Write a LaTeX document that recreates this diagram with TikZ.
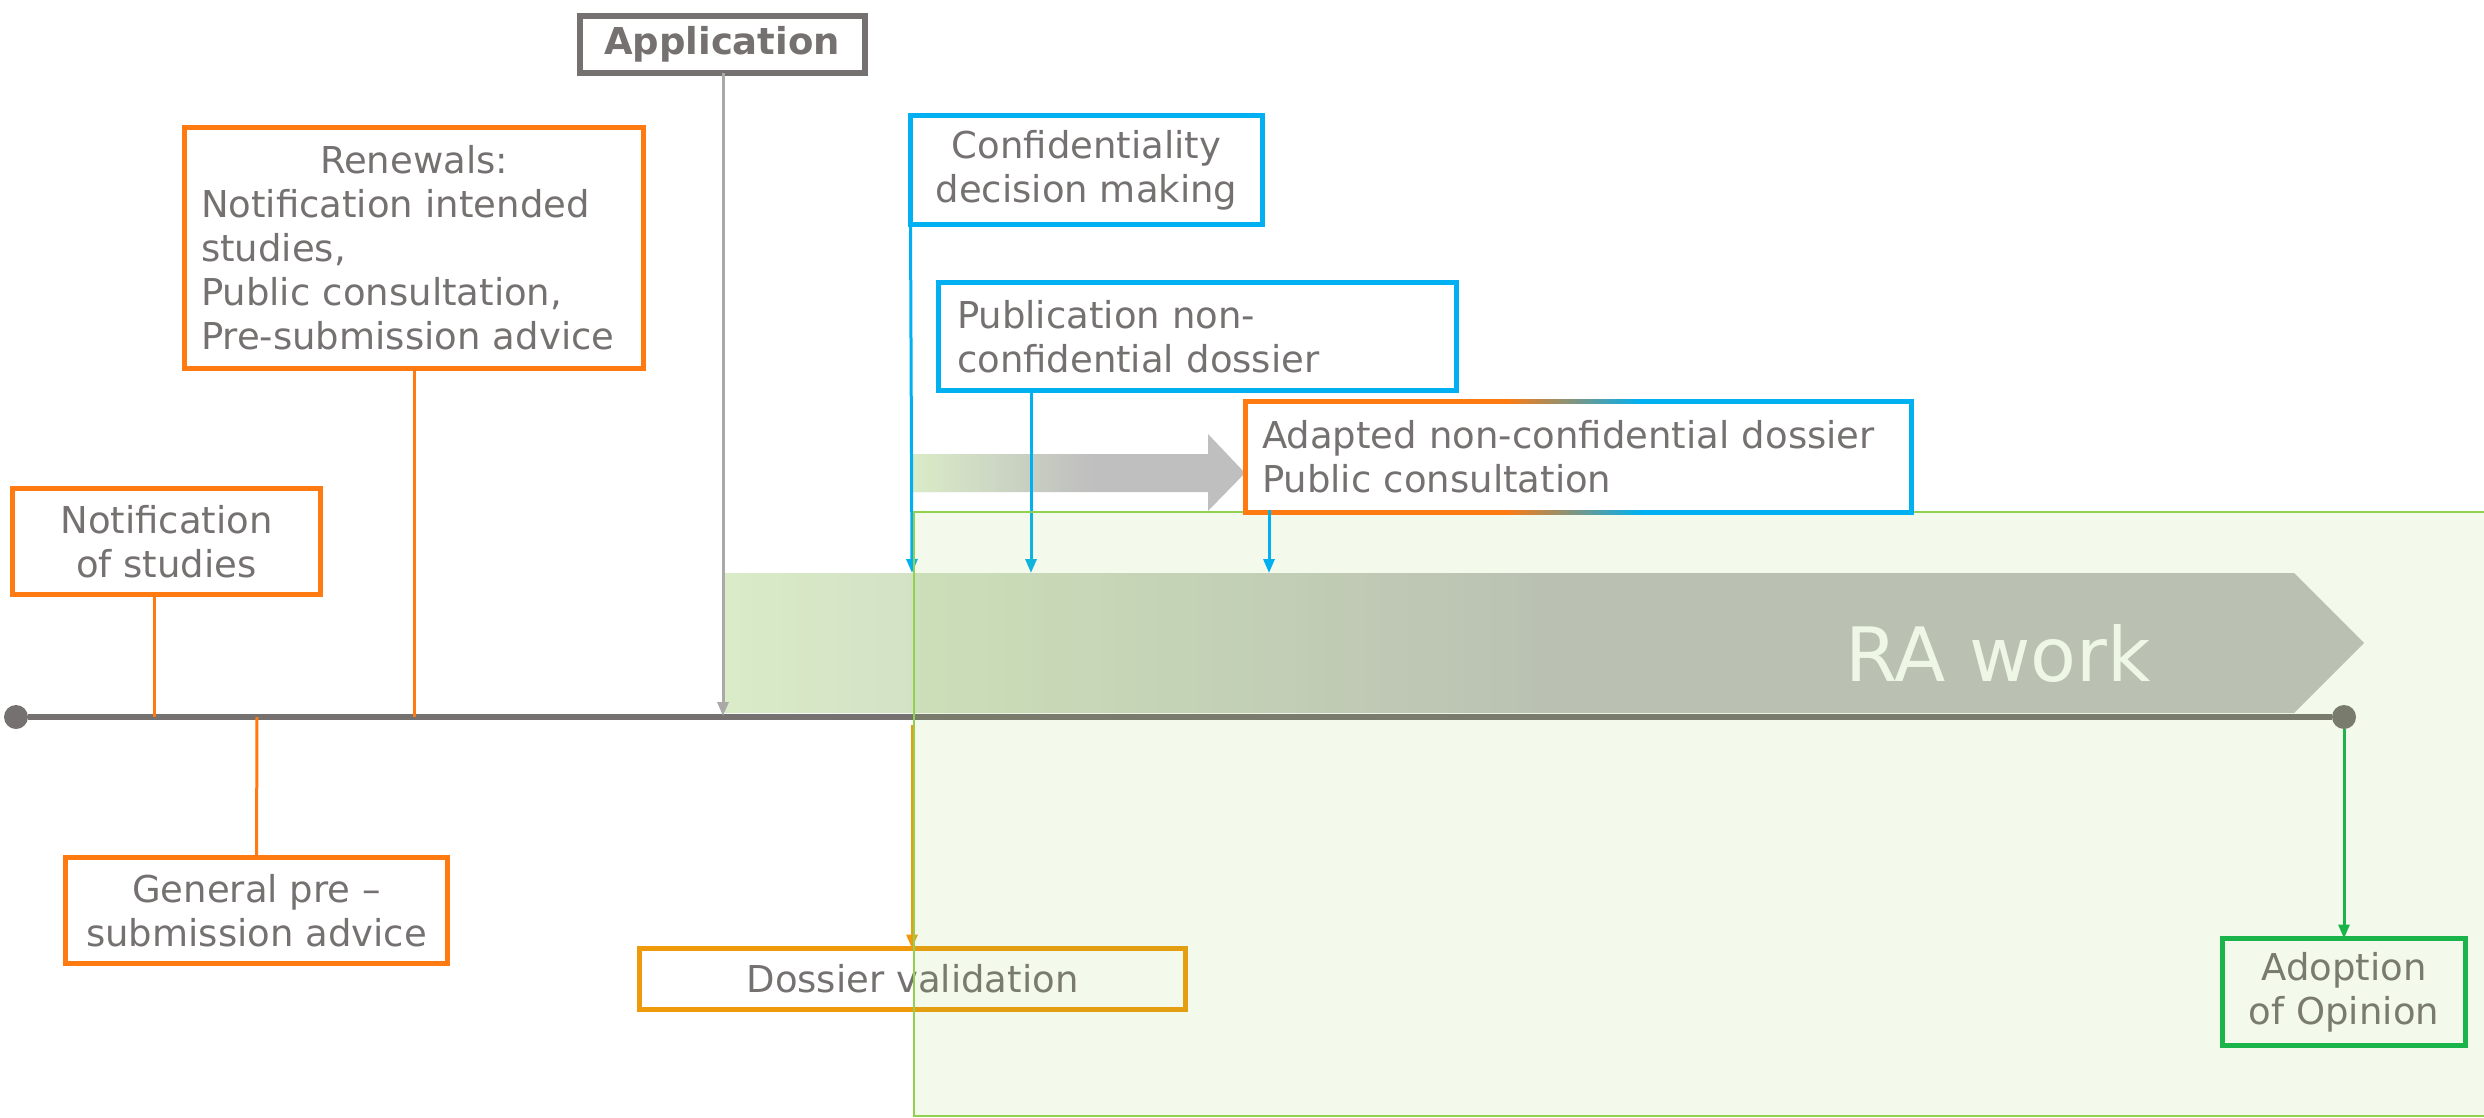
\documentclass[tikz,border=0pt]{standalone}
\usepackage{fontspec}
\setmainfont{DejaVu Sans}
\usetikzlibrary{arrows.meta}

\definecolor{txtgray}{HTML}{767171}
\definecolor{linegray}{HTML}{767171}
\definecolor{boxgray}{HTML}{767171}
\definecolor{appline}{HTML}{ABA8A8}
\definecolor{orng}{HTML}{FF7A10}
\definecolor{amber}{HTML}{EE9A0A}
\definecolor{cyanb}{HTML}{00B0F0}
\definecolor{grn}{HTML}{0DB14B}
\definecolor{lgreen}{HTML}{92D050}
\definecolor{raleft}{HTML}{D9EBC7}
\definecolor{arrgray}{HTML}{BFBFBF}
\definecolor{ratext}{HTML}{FAFCF8}

% horizontal colour ramp built from thin strips:
% #1,#2 = left/top, #3,#4 = right/bottom, #5 = left colour, #6 = right colour
\newcommand\hstripes[6]{%
  \pgfmathsetmacro\stripw{(#3-#1)/60}%
  \foreach \k in {0,...,59}{%
    \pgfmathsetmacro\xl{#1+\stripw*\k}%
    \pgfmathsetmacro\xr{#1+\stripw*(\k+1)+0.7}%
    \pgfmathtruncatemacro\pc{(\k+0.5)*100/60}%
    \fill[#6!\pc!#5] (\xl,#2) rectangle (\xr,#4);
  }%
}

\tikzset{
  basebox/.style={fill=white, text=txtgray, inner sep=0pt, outer sep=0pt,
    line width=5pt, font=\fontsize{37}{44}\selectfont, align=center},
  orangebox/.style={basebox, draw=orng},
  bluebox/.style={basebox, draw=cyanb},
  amberbox/.style={basebox, draw=amber},
  greenbox/.style={basebox, draw=grn},
  appbox/.style={basebox, draw=boxgray, line width=6pt,
    font=\fontsize{37}{44}\selectfont\bfseries},
  stem/.style={line width=3pt},
  arrowed/.style={line width=3pt, -{Triangle[length=14pt,width=11pt]}},
  tldot/.style={circle, fill=linegray, inner sep=0pt, minimum size=24pt},
}

\begin{document}
\begin{tikzpicture}[x=1pt,y=-1pt]
\useasboundingbox (0,0) rectangle (2484,1118);

% RA work band
\fill[arrgray] (725,573) -- (2294,573) -- (2364,643) -- (2294,713) -- (725,713) -- cycle;
\hstripes{725}{573}{1560}{713}{raleft}{arrgray}
\node[text=ratext, font=\fontsize{75}{90}\selectfont, anchor=base] (ra) at (1998,681) {RA work};

% small block arrow towards the consultation box
\fill[arrgray] (913,454) -- (1208,454) -- (1208,434) -- (1245,473) -- (1208,511) -- (1208,492) -- (913,492) -- cycle;
\hstripes{913}{454}{1090}{492}{raleft}{arrgray}

% timeline
\node[tldot] (dotL) at (16,717) {};
\node[tldot] (dotR) at (2344,717) {};
\draw[line width=6pt, linegray] (dotL) -- (dotR);

% boxes
\node[appbox, minimum width=285pt, minimum height=57pt] (app) at (722,44.5) {Application};
\node[orangebox, minimum width=459pt, minimum height=241pt, text width=426pt, align=left] (renew) at (414,248)
  {\makebox[426pt][c]{Renewals:}\\Notification intended\\studies,\\Public consultation,\\Pre-submission advice};
\node[orangebox, minimum width=308pt, minimum height=106pt] (notif) at (166.5,541.5) {Notification\\of studies};
\node[orangebox, minimum width=382pt, minimum height=106pt] (general) at (256.5,910.5) {General pre –\\submission advice};
\node[bluebox, minimum width=352pt, minimum height=109pt] (conf) at (1086.5,170) {Confidentiality\\decision making};
\node[bluebox, minimum width=518pt, minimum height=108pt, text width=481pt, align=left] (pub) at (1197.5,336.5)
  {Publication non-\\confidential dossier};
\node[amberbox, minimum width=546pt, minimum height=61pt] (dossier) at (912.5,979) {Dossier validation};
\node[greenbox, minimum width=243pt, minimum height=107pt] (adopt) at (2344,992) {Adoption\\of Opinion};

% connectors
\coordinate (tNotif) at (154,717);
\coordinate (tGen) at (257,717);
\coordinate (tRenew) at (414,717);
\coordinate (tApp) at (723,716);
\coordinate (tVal) at (912,725);
\coordinate (raConf) at (912,573);
\coordinate (raPub) at (1031,573);
\coordinate (raAdapt) at (1269,573);

\draw[stem, orng] (notif.south -| tNotif) -- (tNotif);
\draw[stem, orng] (tGen) -- (general.north);
\draw[stem, orng] (renew.south) -- (tRenew);
\draw[arrowed, appline] (app.south -| tApp) -- (tApp);
\draw[arrowed, cyanb] (conf.south west) -- (raConf);
\draw[arrowed, cyanb] (pub.south -| raPub) -- (raPub);
\draw[arrowed, amber] (tVal) -- (dossier.north -| tVal);
\draw[arrowed, grn] (dotR) -- (adopt.north);

% translucent RA work area
\fill[lgreen, fill opacity=0.11] (914,512) rectangle (2490,1116);
\draw[lgreen, line width=2.5pt] (2490,512) -- (914,512) -- (914,1116) -- (2490,1116);

% consultation box with orange-to-blue frame
\fill[orng] (1243,399) rectangle (1505,515);
\fill[cyanb] (1640,399) rectangle (1914,515);
\hstripes{1505}{399}{1640}{515}{orng}{cyanb}
\node[basebox, minimum width=661pt, minimum height=106pt, text width=633pt, align=left] (adapt) at (1578.5,457)
  {Adapted non-confidential dossier\\Public consultation};
\draw[arrowed, cyanb] (adapt.south -| raAdapt) -- (raAdapt);
\end{tikzpicture}
\end{document}
